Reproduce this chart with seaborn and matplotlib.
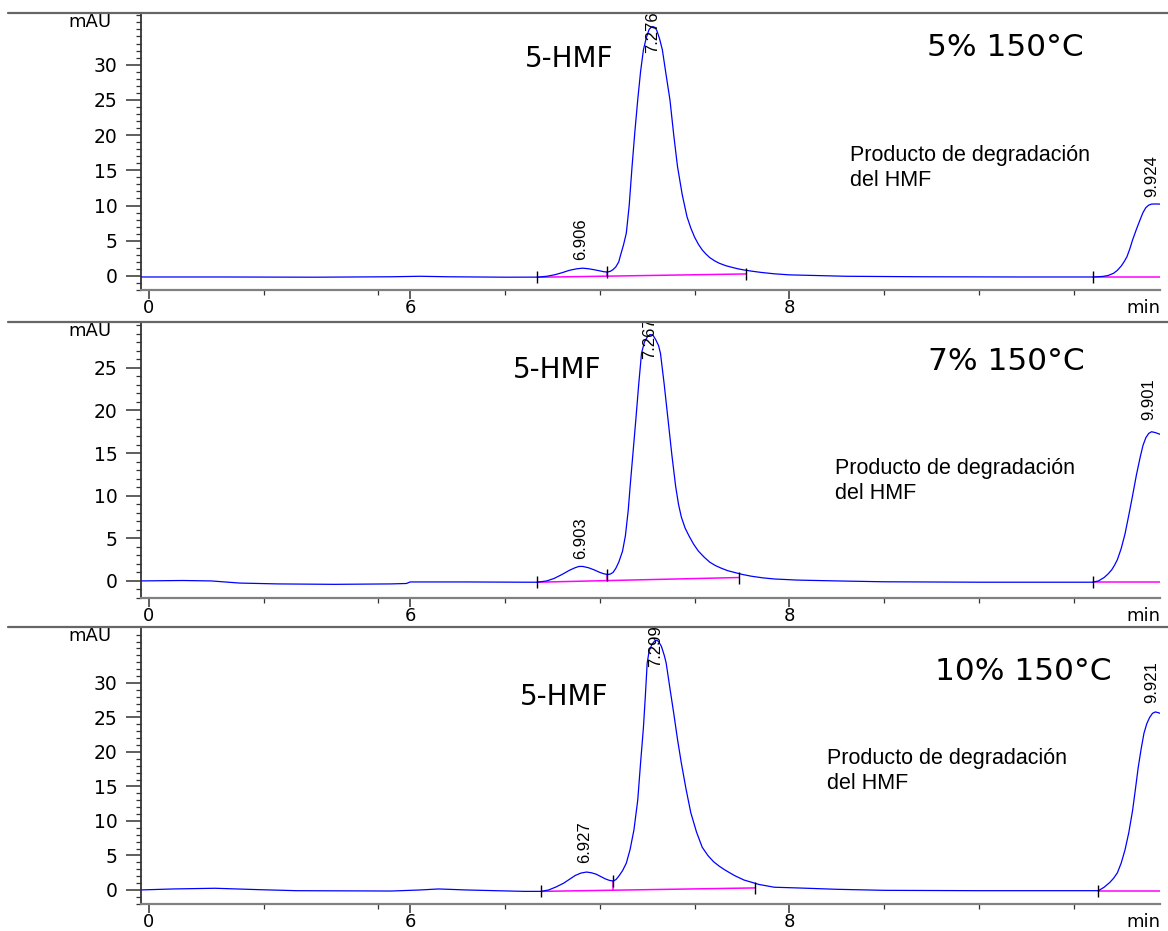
import matplotlib
matplotlib.use("Agg")
import matplotlib.pyplot as plt
from matplotlib import font_manager
from matplotlib.lines import Line2D
import numpy as np
import pandas as pd
import seaborn as sns

# retention time (min) / absorbance (mAU)
t_5 = [4.57, 5.0, 5.5, 5.9, 6.05, 6.2, 6.5, 6.67, 6.72, 6.76, 6.80, 6.84, 6.88, 6.91, 6.94,
       6.97, 7.0, 7.02, 7.04, 7.055, 7.07, 7.085, 7.10, 7.11, 7.125, 7.14, 7.155, 7.17,
       7.185, 7.20, 7.215, 7.23, 7.245, 7.26, 7.27, 7.28, 7.29, 7.30, 7.315, 7.33, 7.35,
       7.37, 7.39, 7.41, 7.435, 7.46, 7.48, 7.50, 7.52, 7.54, 7.56, 7.58, 7.605, 7.63,
       7.665, 7.70, 7.73, 7.76, 7.80, 7.85, 7.92, 8.0, 8.3, 8.7, 9.2, 9.6, 9.65, 9.68,
       9.71, 9.73, 9.75, 9.765, 9.78, 9.795, 9.81, 9.83, 9.85, 9.865, 9.88, 9.895, 9.91,
       9.93, 9.955]
mau_5 = [-0.15, -0.15, -0.18, -0.12, -0.05, -0.12, -0.18, -0.17, -0.05, 0.15, 0.45, 0.8,
         1.02, 1.1, 1.02, 0.88, 0.72, 0.6, 0.55, 0.65, 0.9, 1.3, 2.0, 3.0, 4.4, 6.1, 10.0,
         15.5, 20.5, 25.0, 29.0, 32.1, 33.8, 35.0, 35.3, 35.4, 35.3, 34.9, 33.7, 32.1,
         28.5, 25.0, 20.0, 15.5, 11.5, 8.4, 6.8, 5.5, 4.5, 3.7, 3.1, 2.6, 2.15, 1.8, 1.45,
         1.2, 1.0, 0.85, 0.68, 0.5, 0.3, 0.15, -0.05, -0.12, -0.15, -0.15, -0.08, 0.05,
         0.38, 0.8, 1.4, 2.0, 2.7, 3.8, 5.1, 6.6, 8.0, 9.0, 9.7, 10.05, 10.2, 10.22, 10.2]

t_7 = [4.57, 4.8, 4.95, 5.1, 5.3, 5.6, 5.9, 5.98, 6.0, 6.3, 6.6, 6.67, 6.72, 6.76, 6.80,
       6.84, 6.87, 6.89, 6.91, 6.94, 6.97, 7.0, 7.02, 7.04, 7.055, 7.07, 7.085, 7.10, 7.12,
       7.135, 7.15, 7.16, 7.175, 7.19, 7.205, 7.22, 7.235, 7.25, 7.265, 7.28, 7.295, 7.31,
       7.32, 7.34, 7.36, 7.38, 7.40, 7.415, 7.43, 7.45, 7.47, 7.495, 7.52, 7.55, 7.58,
       7.61, 7.64, 7.675, 7.71, 7.75, 7.80, 7.86, 7.92, 8.04, 8.25, 8.5, 9.0, 9.6, 9.63,
       9.66, 9.68, 9.70, 9.715, 9.73, 9.75, 9.77, 9.79, 9.81, 9.83, 9.85, 9.865, 9.88,
       9.895, 9.91, 9.93, 9.955]
mau_7 = [0.0, 0.05, 0.0, -0.25, -0.35, -0.4, -0.35, -0.3, -0.12, -0.12, -0.15, -0.15, 0.0,
         0.3, 0.75, 1.25, 1.55, 1.7, 1.7, 1.55, 1.3, 1.0, 0.85, 0.75, 0.8, 1.0, 1.5, 2.2,
         3.5, 5.3, 8.3, 11.1, 15.0, 18.9, 23.0, 26.7, 28.0, 28.6, 28.9, 28.85, 28.3, 27.6,
         26.7, 23.0, 18.9, 14.8, 11.1, 9.0, 7.5, 6.2, 5.3, 4.3, 3.5, 2.8, 2.2, 1.8, 1.5,
         1.2, 1.0, 0.77, 0.55, 0.36, 0.23, 0.1, 0.0, -0.1, -0.15, -0.15, 0.0, 0.4, 0.8,
         1.3, 1.85, 2.5, 3.8, 5.5, 7.7, 10.0, 12.4, 14.5, 15.9, 16.8, 17.3, 17.5, 17.4,
         17.2]

t_10 = [4.57, 4.75, 4.97, 5.2, 5.4, 5.9, 6.05, 6.15, 6.3, 6.6, 6.69, 6.73, 6.77, 6.81, 6.84,
        6.87, 6.90, 6.93, 6.955, 6.98, 7.005, 7.03, 7.05, 7.07, 7.085, 7.10, 7.12, 7.14,
        7.16, 7.18, 7.20, 7.215, 7.23, 7.24, 7.25, 7.26, 7.275, 7.29, 7.30, 7.31, 7.325,
        7.34, 7.35, 7.37, 7.39, 7.41, 7.43, 7.455, 7.48, 7.51, 7.54, 7.57, 7.60, 7.63,
        7.66, 7.71, 7.76, 7.84, 7.92, 8.04, 8.25, 8.5, 9.0, 9.63, 9.66, 9.69, 9.71, 9.73,
        9.75, 9.77, 9.79, 9.81, 9.825, 9.84, 9.855, 9.87, 9.885, 9.90, 9.915, 9.93, 9.945,
        9.955]
mau_10 = [0.0, 0.15, 0.25, 0.05, -0.1, -0.15, 0.0, 0.15, 0.0, -0.2, -0.2, 0.0, 0.45, 1.0,
          1.55, 2.1, 2.45, 2.6, 2.5, 2.3, 1.95, 1.6, 1.4, 1.3, 1.5, 2.0, 2.8, 3.9, 5.9, 8.7,
          13.0, 18.4, 23.5, 28.0, 32.9, 34.6, 35.6, 36.1, 36.2, 36.0, 35.3, 34.0, 32.9,
          29.2, 25.6, 21.8, 18.4, 14.6, 11.2, 8.4, 6.2, 5.0, 4.1, 3.45, 2.9, 2.1, 1.45, 0.8,
          0.4, 0.3, 0.1, -0.05, -0.1, -0.1, 0.4, 1.1, 1.7, 2.5, 3.9, 5.8, 8.3, 11.5, 14.6,
          17.8, 20.4, 22.7, 24.1, 25.0, 25.6, 25.8, 25.7, 25.6]

# integration events: start, valley, end, start of last peak
events_5 = [6.67, 7.04, 7.77, 9.60]
events_7 = [6.67, 7.04, 7.735, 9.60]
events_10 = [6.69, 7.07, 7.82, 9.63]
# baseline drawn under the peaks (start value, end value, last-peak value)
base_5 = [-0.19, 0.28, -0.12]
base_7 = [-0.15, 0.40, -0.15]
base_10 = [-0.20, 0.30, -0.10]

# peak labels: retention time text, x, y of label foot
peaks_5 = [("6.906", 6.90, 2.3), ("7.276", 7.28, 31.7), ("9.924", 9.91, 11.2)]
peaks_7 = [("6.903", 6.90, 2.6), ("7.267", 7.265, 26.0), ("9.901", 9.895, 18.9)]
peaks_10 = [("6.927", 6.92, 3.9), ("7.299", 7.295, 32.3), ("9.921", 9.91, 27.1)]

conditions = ["5% 150°C", "7% 150°C", "10% 150°C"]
ylims = [(-2.0, 37.2), (-1.87, 30.26), (-2.03, 37.97)]
ymajor_max = [30, 25, 30]

x_major = [4.62, 6, 8]
x_major_labels = ["0", "6", "8"]
x_minor = [5.23, 5.83, 6.5, 7.0, 7.5, 8.5, 9.0, 9.5]
xlim = (4.58, 9.955)

# text placement per panel (data coords)
hmf_pos = [(6.605, 30.8), (6.54, 24.8), (6.58, 28.0)]
cond_pos = [(9.552, 32.4), (9.558, 25.7), (9.70, 31.6)]
prod_pos = [(8.32, 15.3), (8.24, 11.7), (8.20, 17.2)]

sns.set_theme(style="white")
plt.rcParams["font.family"] = ["DejaVu Sans"]
plt.rcParams["text.color"] = "black"
plt.rcParams["xtick.labelcolor"] = "black"
plt.rcParams["ytick.labelcolor"] = "black"

names = {f.name for f in font_manager.fontManager.ttflist}
if "Liberation Sans Narrow" in names:
    prod_font, prod_size = "Liberation Sans Narrow", 18.5
else:
    prod_font, prod_size = "Liberation Sans", 15.5

fig = plt.figure(figsize=(11.68, 9.31), dpi=100)
fig.patch.set_facecolor("white")

rects = [(0.1207, 0.6885, 0.8725, 0.2965),
         (0.1207, 0.3577, 0.8725, 0.2954),
         (0.1207, 0.0290, 0.8725, 0.2965)]
sep_y = [1 - 13 / 931, 1 - 322 / 931, 1 - 627 / 931]

traces = [(t_5, mau_5), (t_7, mau_7), (t_10, mau_10)]
events = [events_5, events_7, events_10]
bases = [base_5, base_7, base_10]
peaks = [peaks_5, peaks_7, peaks_10]

for i in range(3):
    ax = fig.add_axes(rects[i])
    ax.set_facecolor("white")
    t, y = traces[i]
    df = pd.DataFrame({"t": t, "mAU": y})
    ev = events[i]
    b = bases[i]

    # baselines (magenta)
    ax.plot([ev[0], ev[2]], [b[0], b[1]], color="#ff00ff", lw=1.1, zorder=2)
    ax.plot([ev[3], xlim[1]], [b[2], b[2]], color="#ff00ff", lw=1.1, zorder=2)
    valley_base = np.interp(ev[1], [ev[0], ev[2]], [b[0], b[1]])
    valley_sig = np.interp(ev[1], t, y)
    ax.plot([ev[1], ev[1]], [valley_base, valley_sig], color="#ff00ff", lw=1.1, zorder=2)

    sns.lineplot(data=df, x="t", y="mAU", ax=ax, color="#0000ff", lw=0.9,
                 estimator=None, sort=False, zorder=3)

    # integration tick marks
    ev_y = [b[0], valley_sig, b[1], b[2]]
    ax.plot(ev, ev_y, ls="", marker="|", ms=9, mew=1.0, color="black", zorder=4)

    ax.set_xlim(*xlim)
    ax.set_ylim(*ylims[i])
    ax.set_xticks(x_major, x_major_labels)
    ax.set_xticks(x_minor, minor=True)
    ax.set_yticks(list(range(0, ymajor_max[i] + 1, 5)))
    ax.set_yticks(list(range(-2, int(ylims[i][1]) + 1)), minor=True)
    ax.set_xlabel("")
    ax.set_ylabel("")

    for s in ["top", "right"]:
        ax.spines[s].set_visible(False)
    ax.spines["left"].set_color("#333333")
    ax.spines["left"].set_linewidth(1.3)
    ax.spines["bottom"].set_color("#808080")
    ax.spines["bottom"].set_linewidth(1.6)

    ax.tick_params(axis="y", which="major", direction="out", length=10.8, width=1.1,
                   color="#333333", pad=6, labelsize=13.5, labelcolor="black", left=True)
    ax.tick_params(axis="y", which="minor", direction="out", length=3.6, width=0.9,
                   color="#333333", left=True)
    ax.tick_params(axis="x", which="major", direction="out", length=6.5, width=1.1,
                   color="#333333", pad=0, labelsize=13, labelcolor="black", bottom=True)
    ax.tick_params(axis="x", which="minor", direction="out", length=3.6, width=0.9,
                   color="#333333", bottom=True)

    ax.annotate("mAU", xy=(0, 1), xycoords="axes fraction", xytext=(-29, -8),
                textcoords="offset pixels", ha="right", va="center", fontsize=13,
                color="black")
    ax.annotate("min", xy=(1, 0), xycoords="axes fraction", xytext=(0, -18),
                textcoords="offset pixels", ha="right", va="center", fontsize=13,
                color="black")

    ax.text(hmf_pos[i][0], hmf_pos[i][1], "5-HMF", ha="left", va="center", fontsize=20,
            color="black")
    ax.text(cond_pos[i][0], cond_pos[i][1], conditions[i], ha="right", va="center",
            fontsize=22.5, color="black")
    ax.text(prod_pos[i][0], prod_pos[i][1], "Producto de degradación\ndel HMF",
            ha="left", va="center", fontsize=prod_size, family=prod_font, linespacing=1.25,
            color="black")

    for label, px, py in peaks[i]:
        ax.text(px, py, label, rotation=90, ha="center", va="bottom", fontsize=12,
                family="Liberation Sans", clip_on=True, color="black")

    fig.add_artist(Line2D([8 / 1168, 1.0], [sep_y[i], sep_y[i]], transform=fig.transFigure,
                          color="#666666", lw=1.6))

fig.savefig("out.png", dpi=100, facecolor="white")
